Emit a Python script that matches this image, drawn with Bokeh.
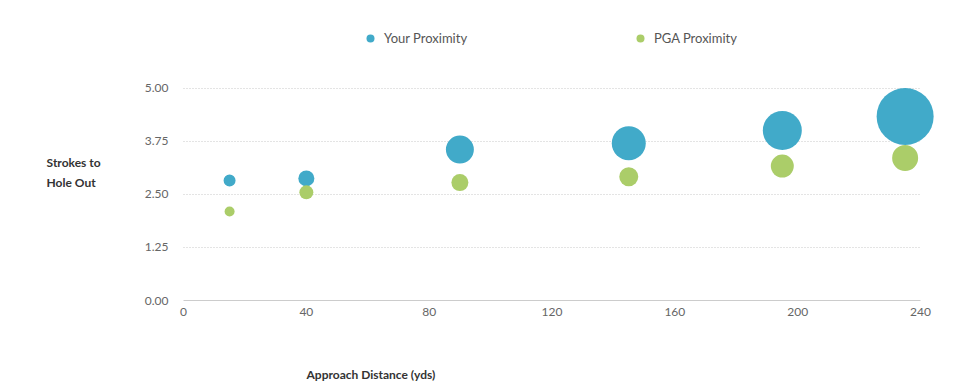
from bokeh.plotting import figure
from bokeh.models import (Range1d, FixedTicker, NumeralTickFormatter, Legend,
                          LegendItem, Label, ColumnDataSource)
from bokeh.embed import file_html
from bokeh.resources import INLINE

# ---- data ----
distance = [15, 40, 90, 145, 195, 235]
your_strokes = [2.83, 2.88, 3.56, 3.71, 4.01, 4.34]
pga_strokes = [2.10, 2.55, 2.78, 2.92, 3.17, 3.36]
your_proximity = [12, 16, 28, 34, 39, 57]
pga_proximity = [10, 14, 17, 19, 23, 26]
y_ticks = [0, 1.25, 2.5, 3.75, 5.0]
x_ticks = [0, 40, 80, 120, 160, 200, 240]
series_names = ["Your Proximity", "PGA Proximity"]
y_title_lines = ["Strokes to", "Hole Out"]
x_title = "Approach Distance (yds)"

BLUE = "#41aac9"
GREEN = "#abcd69"
FONT = "Lato"
BUBBLE_SCALE = 1.0

# the frame fills the whole canvas; axes sit at fixed data locations
p = figure(width=953, height=384, output_backend="svg", toolbar_location=None,
           x_range=Range1d(-59.6, 250.75), y_range=Range1d(-1.981, 7.075),
           min_border=0)
p.outline_line_color = None
p.background_fill_color = "white"
p.border_fill_color = "white"
p.xgrid.visible = False
p.ygrid.visible = False

# horizontal dotted grid lines spanning the axis extent
grid_y = [t for t in y_ticks if t > 0]
p.segment(x0=[x_ticks[0]] * len(grid_y), x1=[x_ticks[-1]] * len(grid_y),
          y0=grid_y, y1=grid_y, line_color="#c8c8c8", line_width=1,
          line_dash="1 2")

your_src = ColumnDataSource(dict(x=distance, y=your_strokes,
                                 s=[v * BUBBLE_SCALE for v in your_proximity]))
pga_src = ColumnDataSource(dict(x=distance, y=pga_strokes,
                                s=[v * BUBBLE_SCALE for v in pga_proximity]))
r_your = p.scatter("x", "y", size="s", source=your_src, fill_color=BLUE,
                   line_color=None)
r_pga = p.scatter("x", "y", size="s", source=pga_src, fill_color=GREEN,
                  line_color=None)

# x axis
xa = p.xaxis[0]
xa.fixed_location = 0
xa.ticker = FixedTicker(ticks=x_ticks)
xa.bounds = (x_ticks[0], x_ticks[-1])
xa.axis_line_color = "#cccccc"
xa.major_tick_line_color = None
xa.minor_tick_line_color = None
xa.major_tick_out = 0
xa.major_tick_in = 0
xa.major_label_text_font = FONT
xa.major_label_text_font_size = "12px"
xa.major_label_text_color = "#666666"
xa.major_label_standoff = 7

# y axis
ya = p.yaxis[0]
ya.fixed_location = 0
ya.ticker = FixedTicker(ticks=y_ticks)
ya.formatter = NumeralTickFormatter(format="0.00")
ya.bounds = (y_ticks[0], y_ticks[-1])
ya.axis_line_color = None
ya.major_tick_line_color = None
ya.minor_tick_line_color = None
ya.major_tick_out = 0
ya.major_tick_in = 0
ya.major_label_text_font = FONT
ya.major_label_text_font_size = "12px"
ya.major_label_text_color = "#666666"
ya.major_label_standoff = 15

# axis titles
for txt, yy in zip(y_title_lines, [3.255, 2.783]):
    p.add_layout(Label(x=-44.6, y=yy, text=txt, text_font=FONT,
                       text_font_size="12px", text_font_style="bold",
                       text_color="#333333", text_baseline="middle"))
p.add_layout(Label(x=40.05, y=-1.745, text=x_title, text_font=FONT,
                   text_font_size="12px", text_font_style="bold",
                   text_color="#333333", text_baseline="middle"))

legend = Legend(items=[LegendItem(label=series_names[0], renderers=[r_your]),
                       LegendItem(label=series_names[1], renderers=[r_pga])],
                location=(360, 336), orientation="horizontal",
                padding=0, spacing=0, margin=0, label_width=246,
                label_standoff=4, glyph_width=20, glyph_height=20,
                label_text_font=FONT, label_text_font_size="13px",
                label_text_color="#555555",
                border_line_color=None, background_fill_alpha=0)
p.add_layout(legend, "center")

open("out.html", "w").write(file_html(p, INLINE))
